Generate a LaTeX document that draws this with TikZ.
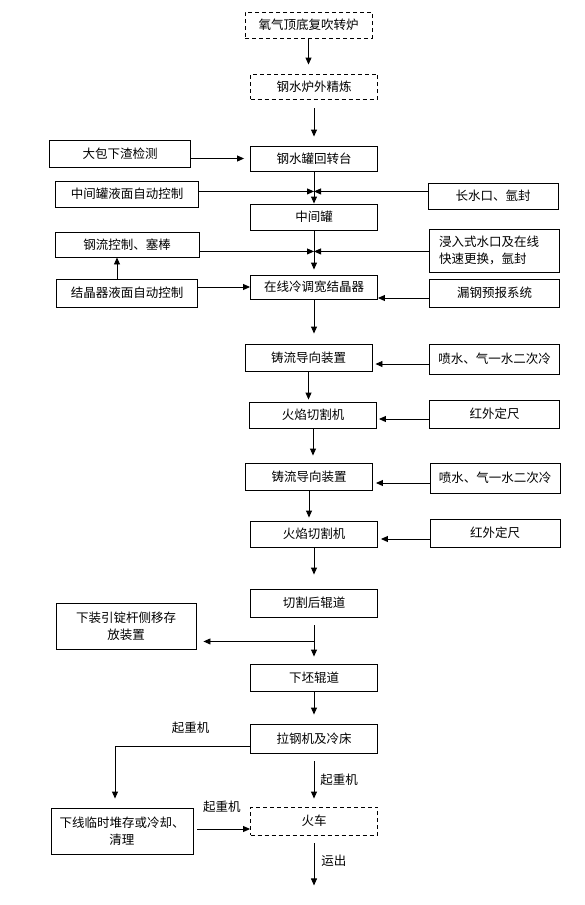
\documentclass[tikz,border=0pt]{standalone}
\usepackage{fontspec}
\newfontfamily\cjk{Noto Sans CJK SC}
\usepackage{tikz}
\usetikzlibrary{arrows.meta,shapes,positioning}
\tikzstyle{arrow} = [->,>={Triangle[length=7pt,width=6pt]},line width=0.9pt]
\tikzstyle{process} = [rectangle, draw, line width=0.9pt, minimum width=127pt, minimum height=26pt, inner sep=2pt, text centered]
\tikzstyle{planned} = [process, dash pattern=on 4pt off 3pt]
\tikzstyle{aside} = [process, minimum width=130pt, minimum height=28pt]
\tikzstyle{remark} = [inner sep=1pt]

\begin{document}
\begin{tikzpicture}[x=1pt, y=1pt, font=\cjk\fontsize{12.5}{17}\selectfont]
\useasboundingbox (0,0) rectangle (584,-905);
% main line
\node (furnace) [planned] at (308.5,-25) {氧气顶底复吹转炉};
\node (refine) [planned, below of=furnace, node distance=61.5pt, xshift=5.5pt, minimum height=25pt] {钢水炉外精炼};
\node (turret) [process, below of=refine, node distance=72pt, minimum height=25pt] {钢水罐回转台};
\node (tundish) [process, below of=turret, node distance=58.5pt] {中间罐};
\node (mould) [process, below of=tundish, node distance=70pt, minimum height=24pt] {在线冷调宽结晶器};
\node (guide1) [process, below of=mould, node distance=70.5pt, xshift=-5.5pt, minimum height=27pt] {铸流导向装置};
\node (cutter1) [process, below of=guide1, node distance=57.5pt, xshift=4.5pt] {火焰切割机};
\node (guide2) [process, below of=cutter1, node distance=61.5pt, xshift=-4pt, minimum height=27pt] {铸流导向装置};
\node (cutter2) [process, below of=guide2, node distance=57.5pt, xshift=5pt] {火焰切割机};
\node (rollerA) [process, below of=cutter2, node distance=69pt, minimum height=28pt] {切割后辊道};
\node (rollerB) [process, below of=rollerA, node distance=74.5pt, minimum height=27pt] {下坯辊道};
\node (coolbed) [process, below of=rollerB, node distance=61pt, minimum height=29pt] {拉钢机及冷床};
\node (train) [planned, below of=coolbed, node distance=82.5pt, minimum height=28pt] {火车};

% left side
\node (slagdet) [process, left of=turret, node distance=194pt, yshift=5pt, minimum width=141pt, minimum height=27pt] {大包下渣检测};
\node (tundishctl) [process, below of=slagdet, node distance=40.5pt, xshift=7pt, minimum width=143pt] {中间罐液面自动控制};
\node (stopper) [process, below of=tundishctl, node distance=50.5pt, minimum width=144pt, minimum height=25pt] {钢流控制、塞棒};
\node (levelctl) [process, below of=stopper, node distance=48.5pt, minimum width=141pt, minimum height=28pt] {结晶器液面自动控制};
\node (dummybar) [process, left of=rollerA, node distance=188pt, yshift=-23pt, minimum width=140pt, minimum height=46pt, text width=130pt] {下装引锭杆侧移存\\放装置};
\node (storage) [process, left of=train, node distance=192pt, yshift=-10pt, minimum width=142pt, minimum height=46pt, text width=132pt] {下线临时堆存或冷却、\\清理};

% right side
\node (shroud) [aside, right of=tundish, node distance=179pt, yshift=21pt, minimum height=26pt] {长水口、氩封};
\node (sen) [aside, below of=shroud, node distance=54.5pt, xshift=1.5pt, minimum height=43pt, text width=111pt, inner xsep=9pt, align=left] {浸入式水口及在线\\快速更换，氩封};
\node (breakout) [aside, below of=sen, node distance=42.5pt] {漏钢预报系统};
\node (spray1) [aside, right of=guide1, node distance=186pt, yshift=-1.5pt, minimum height=30pt] {喷水、气一水二次冷};
\node (ruler1) [aside, right of=cutter1, node distance=181.5pt, yshift=1pt] {红外定尺};
\node (spray2) [aside, right of=guide2, node distance=186pt, yshift=-1.5pt, minimum height=30pt] {喷水、气一水二次冷};
\node (ruler2) [aside, right of=cutter2, node distance=181pt, yshift=1pt] {红外定尺};

% join points
\coordinate (joinA) at ([yshift=-20pt]turret.south);
\coordinate (joinB) at ([yshift=-21pt]tundish.south);
\coordinate (split) at ([yshift=-24pt]rollerA.south);
\coordinate (out) at ([yshift=-50pt]train.south);

% main flow
\draw[arrow, shorten >=9pt] (furnace.south) -- (furnace.south |- refine.north);
\draw[arrow, shorten <=9pt, shorten >=9pt] (refine.south) -- (refine.south |- turret.north);
\draw[arrow] (turret.south) -- (turret.south |- tundish.north);
\draw[arrow, shorten >=5pt] (tundish.south) -- (tundish.south |- mould.north);
\draw[arrow, shorten >=10pt] (mould.south) -- (mould.south |- guide1.north);
\draw[arrow, shorten >=2pt] (guide1.south) -- (guide1.south |- cutter1.north);
\draw[arrow, shorten >=7pt] (cutter1.south) -- (cutter1.south |- guide2.north);
\draw[arrow, shorten >=3pt] (guide2.south) -- (guide2.south |- cutter2.north);
\draw[arrow, shorten >=14pt] (cutter2.south) -- (cutter2.south |- rollerA.north);
\draw[arrow, shorten <=8pt, shorten >=7pt] (rollerA.south) -- (rollerA.south |- rollerB.north);
\draw[arrow, shorten >=9pt] (rollerB.south) -- (rollerB.south |- coolbed.north);
\draw[arrow, shorten <=8pt, shorten >=8pt] (coolbed.south) -- node[remark, right=5pt] {起重机} (coolbed.south |- train.north);
\draw[arrow, shorten <=8pt] (train.south) -- node[remark, right=6pt] {运出} (out);

% left inputs
\draw[arrow, shorten >=6pt] (slagdet.east |- turret.west) -- (turret.west);
\draw[arrow] (tundishctl.east |- joinA) -- (joinA);
\draw[arrow] (stopper.east |- joinB) -- (joinB);
\draw[arrow] ([xshift=-10pt]levelctl.north) -- ([xshift=-10pt]levelctl.north |- stopper.south);
\draw[arrow] (levelctl.east |- mould.west) -- (mould.west);

% right inputs
\draw[arrow] (shroud.west |- joinA) -- (joinA);
\draw[arrow] (sen.west |- joinB) -- (joinB);
\draw[arrow] ([yshift=-5pt]breakout.west) -- ([yshift=-5pt]breakout.west -| mould.east);
\draw[arrow, shorten >=3pt] ([yshift=-5pt]spray1.west) -- ([yshift=-5pt]spray1.west -| guide1.east);
\draw[arrow, shorten >=2pt] ([yshift=-5pt]ruler1.west) -- ([yshift=-5pt]ruler1.west -| cutter1.east);
\draw[arrow, shorten >=3pt] ([yshift=-5pt]spray2.west) -- ([yshift=-5pt]spray2.west -| guide2.east);
\draw[arrow, shorten >=3pt] ([yshift=-6pt]ruler2.west) -- ([yshift=-6pt]ruler2.west -| cutter2.east);

% off line
\draw[arrow, shorten >=7pt] (split) -- (split -| dummybar.east);
\draw[arrow, shorten >=9pt] ([yshift=-7.5pt]coolbed.west) -| node[remark, pos=0.22, above=11pt] {起重机} ([xshift=-7pt]storage.north);
\draw[arrow, shorten <=4pt] ([yshift=2pt]storage.east) -- node[remark, above=15pt] {起重机} ([yshift=2pt]storage.east -| train.west);
\end{tikzpicture}
\end{document}
